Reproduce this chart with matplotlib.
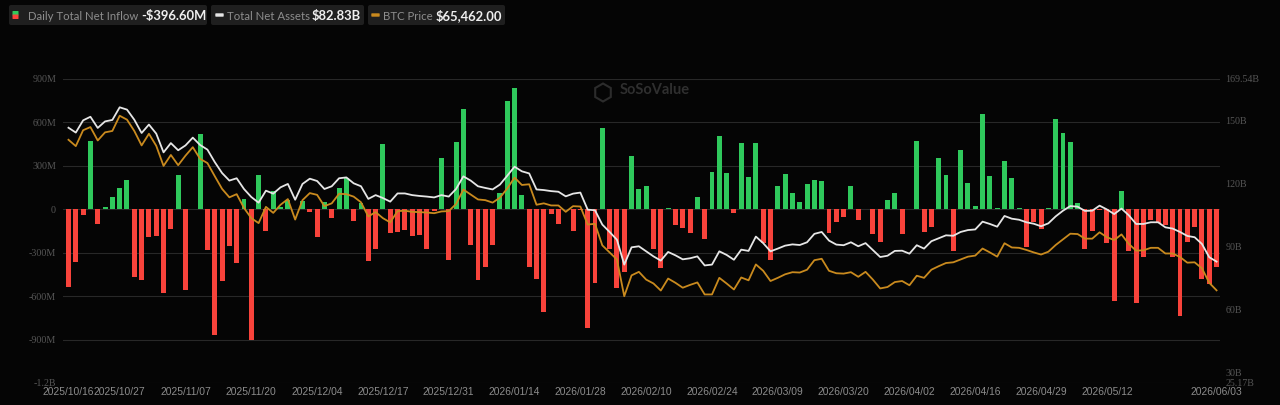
import matplotlib
matplotlib.use('Agg')
from matplotlib import pyplot as plt
from matplotlib.patches import FancyBboxPatch, RegularPolygon

tick_pos = [0, 7, 16, 25, 34, 43, 52, 61, 70, 79, 88, 97, 106, 115, 124, 133, 142, 157]
tick_dates = ['2025/10/16', '2025/10/27', '2025/11/07', '2025/11/20', '2025/12/04', '2025/12/17',
              '2025/12/31', '2026/01/14', '2026/01/28', '2026/02/10', '2026/02/24', '2026/03/09',
              '2026/03/20', '2026/04/02', '2026/04/16', '2026/04/29', '2026/05/12', '2026/06/03']

# daily net inflow, $M
inflow = [
    -538, -367, -42, 473, -102, 18, 88, 145, 199, -471,
    -490, -190, -185, -578, -136, 236, -559, 0, 522, -280,
    -871, -492, -254, -372, 74, -903, 236, -152, 125, 16,
    62, 5, 58, -16, -194, 51, -60, 150, 219, -79,
    46, -358, -277, 453, -162, -157, -143, -187, -176, -277,
    -15, 351, -349, 467, 693, -245, -487, -400, -249, 115,
    751, 841, 97, -397, -485, -711, -35, -104, 5, -150,
    -8, -820, -510, 559, -273, -545, -434, 367, 141, 162,
    -277, -409, 12, -106, -132, -166, 85, -206, 256, 506,
    249, -28, 455, 222, 457, -236, -349, 164, 247, 111,
    51, 178, 199, 196, -164, -90, -53, 164, -76, 5,
    -173, -226, 65, 115, -173, 5, 469, -159, -125, 353,
    236, -291, 407, 182, 23, 661, 233, 7, 333, 219,
    9, -263, -90, -136, 12, 626, 529, 462, 42, -277,
    -148, -5, -233, -635, 127, -291, -649, -330, -74, -95,
    -106, -333, -735, -226, -125, -485, -515, -396.6,
]

# total net assets, $B
assets = [
    146.4, 144.1, 149.9, 151.6, 146.3, 149.4, 150.1, 156.1, 155.0, 150.2,
    143.9, 147.9, 143.6, 134.7, 139.1, 135.7, 138.0, 141.7, 138.2, 136.0,
    130.1, 124.9, 121.3, 122.4, 117.3, 113.5, 110.8, 116.5, 115.1, 118.1,
    119.7, 112.2, 119.7, 122.2, 121.1, 117.3, 118.6, 122.4, 122.8, 120.0,
    118.6, 112.6, 114.4, 113.0, 111.3, 115.2, 115.2, 114.4, 114.0, 113.7,
    113.3, 114.4, 113.7, 117.3, 123.3, 121.3, 118.6, 117.8, 117.1, 119.4,
    123.6, 127.9, 125.7, 124.7, 117.1, 116.8, 116.3, 116.0, 113.8, 115.1,
    115.6, 107.5, 107.2, 100.4, 96.9, 93.2, 81.4, 89.6, 90.1, 87.7,
    85.3, 83.3, 87.4, 85.8, 83.9, 84.4, 85.3, 81.0, 81.4, 87.7,
    86.0, 83.7, 88.5, 87.9, 94.7, 91.6, 87.7, 89.0, 90.4, 91.0,
    90.7, 92.0, 96.0, 96.9, 92.8, 90.9, 90.6, 92.0, 90.1, 91.6,
    88.3, 85.0, 85.6, 87.9, 88.0, 86.6, 90.6, 89.0, 92.5, 93.9,
    95.3, 95.1, 96.9, 97.8, 98.1, 101.8, 100.7, 99.4, 104.5, 103.2,
    102.7, 101.5, 100.8, 99.6, 101.0, 104.3, 107.0, 109.2, 108.9, 106.9,
    107.0, 109.4, 107.6, 105.4, 108.0, 104.8, 100.7, 100.7, 101.5, 101.5,
    99.1, 98.5, 96.9, 95.0, 94.4, 91.2, 84.9, 82.83,
]

# btc price, $k
btc = [
    108.1, 106.3, 110.8, 111.7, 107.9, 110.2, 110.6, 114.9, 113.8, 110.6,
    106.5, 109.8, 106.4, 100.7, 103.8, 100.9, 103.6, 106.0, 102.7, 101.5,
    97.8, 94.2, 91.8, 92.7, 88.8, 85.9, 84.5, 89.1, 87.4, 89.7,
    91.3, 85.5, 91.0, 93.0, 92.5, 89.3, 90.1, 92.8, 92.7, 92.0,
    90.4, 86.4, 87.6, 85.9, 84.7, 87.9, 88.0, 87.7, 87.6, 87.5,
    87.3, 87.8, 87.9, 89.9, 94.0, 92.6, 91.2, 91.0, 90.3, 91.7,
    94.3, 97.4, 95.3, 95.5, 89.7, 90.1, 89.5, 89.5, 87.7, 89.3,
    89.2, 84.1, 84.3, 78.2, 76.2, 74.2, 63.8, 69.7, 70.7, 68.5,
    67.4, 65.4, 68.8, 67.6, 66.2, 67.0, 67.7, 64.3, 64.3, 69.0,
    67.4, 65.7, 69.1, 68.3, 72.8, 71.0, 68.1, 69.0, 70.0, 70.6,
    70.5, 71.3, 74.0, 74.4, 71.0, 70.3, 70.2, 70.6, 69.3, 70.7,
    68.5, 66.0, 66.4, 67.8, 68.1, 66.9, 69.6, 69.0, 71.3, 72.3,
    73.2, 73.4, 74.2, 75.0, 75.3, 77.3, 76.2, 75.0, 78.8, 77.6,
    77.5, 76.9, 76.2, 75.6, 76.4, 78.3, 79.9, 81.5, 81.4, 80.1,
    80.1, 81.9, 80.5, 79.7, 81.3, 78.6, 76.7, 76.8, 77.5, 77.5,
    75.9, 75.9, 74.9, 73.3, 73.4, 71.7, 67.6, 65.46,
]

left_ticks = [-1200, -900, -600, -300, 0, 300, 600, 900]
left_labels = ['-1.2B', '-900M', '-600M', '-300M', '0', '300M', '600M', '900M']
right_ticks = [25.17, 30, 60, 90, 120, 150, 169.54]
right_labels = ['25.17B', '30B', '60B', '90B', '120B', '150B', '169.54B']

BG = '#050505'
GRID = '#282828'
GREEN = '#2fc95c'
RED = '#f8433b'
WHITE = '#e6e6e6'
ORANGE = '#c98a1e'
DIM = '#565656'

fig = plt.figure(figsize=(12.8, 4.05), dpi=100, facecolor=BG)
ax = fig.add_axes([63 / 1280, 1 - 383 / 405, (1220 - 63) / 1280, 304 / 405], facecolor=BG)

xx = list(range(len(inflow)))
colors = [GREEN if v >= 0 else RED for v in inflow]
ax.bar(xx, inflow, width=0.68, color=colors, zorder=2)
ax.set_xlim(-0.75, 157.47)
ax.set_ylim(-1200, 900)
ax.set_yticks(left_ticks)
ax.set_yticklabels(left_labels, fontsize=7.2, color=DIM, family='Liberation Serif')
ax.set_xticks(tick_pos)
ax.set_xticklabels(tick_dates, fontsize=7.4, color='#8c8c8c', family='Liberation Sans')
ax.tick_params(axis='both', length=0)
ax.tick_params(axis='x', pad=3)
ax.tick_params(axis='y', pad=5)
ax.grid(axis='y', color=GRID, lw=0.8, zorder=0)
for s in ax.spines.values():
    s.set_visible(False)

# right axis, assets
ax2 = ax.twinx()
ax2.plot(xx, assets, color=WHITE, lw=1.3, zorder=4)
ax2.set_ylim(25.17, 169.54)
ax2.set_yticks(right_ticks)
ax2.set_yticklabels(right_labels, fontsize=7.2, color=DIM, family='Liberation Serif')
ax2.tick_params(axis='y', length=0, pad=4)
for s in ax2.spines.values():
    s.set_visible(False)

# hidden price axis
ax3 = ax.twinx()
ax3.plot(xx, btc, color=ORANGE, lw=1.3, zorder=3)
ax3.set_ylim(39.22, 125.31)
ax3.axis('off')

# overlay in pixels for the legend pills and watermark
ov = fig.add_axes([0, 0, 1, 1], facecolor='none')
ov.set_xlim(0, 1280)
ov.set_ylim(405, 0)
ov.axis('off')

def pill(x0, x1, y0=5, y1=25):
    ov.add_patch(FancyBboxPatch((x0 + 2, y0 + 2), x1 - x0 - 4, y1 - y0 - 4,
                                boxstyle='round,pad=2', fc='#1f1f1f', ec='none'))

pill(9, 207)
pill(211, 364)
pill(368, 505)

# legend swatches
ov.add_patch(FancyBboxPatch((13, 11.5), 5, 3.5, boxstyle='round,pad=0.5', fc=GREEN, ec='none'))
ov.add_patch(FancyBboxPatch((13, 15), 5, 3.5, boxstyle='round,pad=0.5', fc=RED, ec='none'))
ov.add_patch(FancyBboxPatch((216, 14), 7, 2, boxstyle='round,pad=0.7', fc=WHITE, ec='none'))
ov.add_patch(FancyBboxPatch((372, 14), 7, 2, boxstyle='round,pad=0.7', fc=ORANGE, ec='none'))

ov.text(28, 20, 'Daily Total Net Inflow', color='#8d8d8d', fontsize=8.2, family='Lato')
ov.text(141, 20, '-$396.60M', color='#efefef', fontsize=9.4, family='Lato', weight='bold')
ov.text(227, 20, 'Total Net Assets', color='#8d8d8d', fontsize=8.2, family='Lato')
ov.text(312, 20, '$82.83B', color='#efefef', fontsize=9.4, family='Lato', weight='bold')
ov.text(383, 20, 'BTC Price', color='#8d8d8d', fontsize=8.2, family='Lato')
ov.text(436, 20, '$65,462.00', color='#efefef', fontsize=9.4, family='Lato', weight='bold')

# watermark
ov.add_patch(RegularPolygon((603, 92.5), 6, radius=9, fc='none', ec='#2c2c2c', lw=1.5))
ov.text(620, 90.5, 'SoSoValue', color='#2f2f2f', fontsize=10.5, family='Lato', weight='bold', va='center')

fig.savefig('out.png', dpi=100, facecolor=BG)
